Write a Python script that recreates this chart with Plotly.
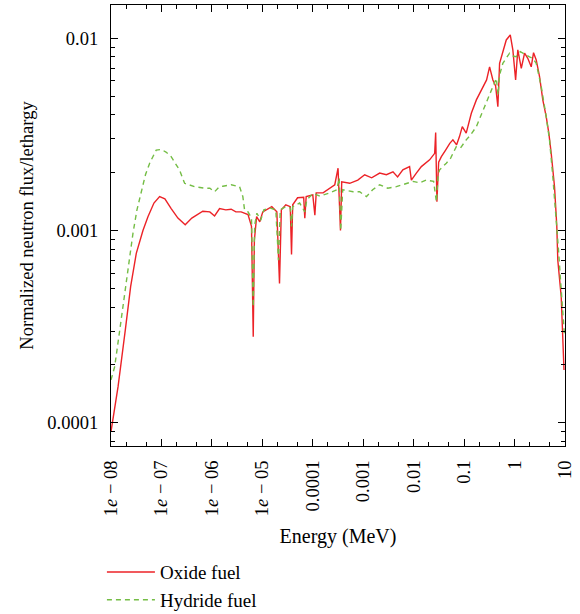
import plotly.graph_objects as go

# ---- data (energy in MeV, normalized flux per lethargy) ----
oxide_energy = [1.0e-8, 1.38e-8, 1.92e-8, 2.45e-8, 3.17e-8, 4.3e-8, 5.4e-8, 7.1e-8, 9.2e-8,
                1.17e-7, 1.56e-7, 2.12e-7, 2.96e-7, 4.0e-7, 6.6e-7, 9.1e-7, 1.13e-6, 1.42e-6,
                1.89e-6, 2.41e-6, 2.99e-6, 3.8e-6, 5.2e-6, 6.1e-6, 6.6e-6, 6.95e-6, 7.7e-6,
                8.9e-6, 1.02e-5, 1.29e-5, 1.54e-5, 1.94e-5, 2.19e-5, 2.38e-5, 2.92e-5, 3.58e-5,
                3.79e-5, 4.0e-5, 5.0e-5, 6.6e-5, 6.95e-5, 7.4e-5, 1.0e-4, 1.1e-4, 1.17e-4,
                1.6e-4, 2.17e-4, 2.73e-4, 3.17e-4, 3.54e-4, 3.75e-4, 5.4e-4, 7.8e-4, 1.07e-3,
                1.47e-3, 2.12e-3, 2.88e-3, 3.89e-3, 4.8e-3, 6.1e-3, 8.3e-3, 9.0e-3, 1.13e-2,
                1.42e-2, 2.07e-2, 2.61e-2, 2.73e-2, 2.89e-2, 3.13e-2, 3.54e-2, 4.3e-2, 5.2e-2,
                6.0e-2, 7.1e-2, 8.1e-2, 9.2e-2, 0.110, 0.139, 0.175, 0.236, 0.279, 0.320,
                0.372, 0.421, 0.467, 0.505, 0.685, 0.822, 0.925, 1.05, 1.16, 1.36, 1.58,
                1.83, 2.14, 2.38, 2.69, 3.13, 3.63, 4.24, 4.78, 5.33, 6.2, 6.88, 7.2, 8.41,
                9.04, 9.55]
oxide_flux = [9.0e-5, 1.54e-4, 3.03e-4, 5.1e-4, 7.6e-4, 1.0e-3, 1.18e-3, 1.39e-3, 1.50e-3,
              1.46e-3, 1.30e-3, 1.16e-3, 1.07e-3, 1.16e-3, 1.26e-3, 1.25e-3, 1.19e-3, 1.30e-3,
              1.28e-3, 1.29e-3, 1.25e-3, 1.25e-3, 1.21e-3, 1.05e-3, 2.8e-4, 8.9e-4, 1.18e-3,
              1.11e-3, 1.25e-3, 1.29e-3, 1.33e-3, 1.25e-3, 5.3e-4, 1.28e-3, 1.36e-3, 1.33e-3,
              7.5e-4, 1.36e-3, 1.48e-3, 1.49e-3, 1.16e-3, 1.50e-3, 1.53e-3, 1.20e-3, 1.57e-3,
              1.57e-3, 1.66e-3, 1.73e-3, 2.11e-3, 1.0e-3, 1.79e-3, 1.76e-3, 1.83e-3, 1.95e-3,
              1.88e-3, 1.99e-3, 1.95e-3, 2.02e-3, 1.90e-3, 2.07e-3, 2.15e-3, 1.83e-3, 1.99e-3,
              2.15e-3, 2.33e-3, 2.52e-3, 3.23e-3, 1.41e-3, 2.27e-3, 2.42e-3, 2.62e-3, 2.84e-3,
              2.96e-3, 2.79e-3, 3.08e-3, 3.47e-3, 3.21e-3, 4.07e-3, 4.78e-3, 5.6e-3, 6.07e-3,
              7.1e-3, 6.07e-3, 5.65e-3, 4.41e-3, 7.41e-3, 9.8e-3, 1.04e-2, 8.7e-3, 6.07e-3,
              8.7e-3, 6.98e-3, 8.36e-3, 7.87e-3, 7.1e-3, 8.41e-3, 7.71e-3, 6.31e-3, 4.78e-3,
              3.91e-3, 3.21e-3, 2.52e-3, 1.69e-3, 1.05e-3, 7.0e-4, 4.53e-4, 2.8e-4, 1.88e-4]

hydride_energy = [1.0e-8, 1.18e-8, 1.49e-8, 1.73e-8, 2.17e-8, 2.73e-8, 3.27e-8, 3.98e-8, 4.82e-8,
                  5.84e-8, 7.88e-8, 9.9e-8, 1.23e-7, 1.56e-7, 1.89e-7, 2.29e-7, 2.88e-7, 4.54e-7,
                  7.16e-7, 9.1e-7, 1.13e-6, 1.38e-6, 1.65e-6, 2.41e-6, 3.54e-6, 4.11e-6, 4.44e-6,
                  5.2e-6, 6.1e-6, 6.6e-6, 7.05e-6, 7.8e-6, 9.3e-6, 1.07e-5, 1.41e-5, 1.85e-5,
                  2.09e-5, 2.27e-5, 2.92e-5, 3.58e-5, 3.79e-5, 4.0e-5, 5.5e-5, 6.95e-5, 7.6e-5,
                  1.01e-4, 1.38e-4, 2.17e-4, 2.99e-4, 3.35e-4, 3.58e-4, 3.92e-4, 6.3e-4, 8.5e-4,
                  1.16e-3, 1.54e-3, 2.12e-3, 3.06e-3, 4.54e-3, 6.6e-3, 9.7e-3, 1.31e-2, 1.78e-2,
                  2.49e-2, 2.82e-2, 3.06e-2, 3.27e-2, 4.44e-2, 5.41e-2, 7.0e-2, 8.5e-2, 0.110,
                  0.134, 0.175, 0.212, 0.275, 0.346, 0.435, 0.471, 0.505, 0.586, 0.695, 0.796,
                  0.912, 1.08, 1.30, 1.51, 1.71, 1.98, 2.30, 2.69, 3.38, 4.24, 4.93, 5.73, 6.69,
                  7.43, 8.41, 9.77]
hydride_flux = [1.67e-4, 1.95e-4, 3.03e-4, 4.09e-4, 6.2e-4, 9.7e-4, 1.28e-3, 1.59e-3, 1.95e-3,
                2.24e-3, 2.62e-3, 2.64e-3, 2.56e-3, 2.42e-3, 2.25e-3, 2.06e-3, 1.76e-3, 1.69e-3,
                1.66e-3, 1.66e-3, 1.59e-3, 1.68e-3, 1.70e-3, 1.73e-3, 1.69e-3, 1.50e-3, 1.28e-3,
                1.25e-3, 1.16e-3, 4.0e-4, 1.07e-3, 1.23e-3, 1.13e-3, 1.28e-3, 1.31e-3, 1.28e-3,
                7.0e-4, 1.28e-3, 1.33e-3, 1.31e-3, 1.05e-3, 1.33e-3, 1.39e-3, 1.25e-3, 1.44e-3,
                1.56e-3, 1.51e-3, 1.57e-3, 1.63e-3, 1.88e-3, 1.0e-3, 1.63e-3, 1.59e-3, 1.59e-3,
                1.50e-3, 1.63e-3, 1.73e-3, 1.66e-3, 1.69e-3, 1.75e-3, 1.80e-3, 1.77e-3, 1.83e-3,
                1.80e-3, 1.41e-3, 1.95e-3, 2.07e-3, 2.24e-3, 2.38e-3, 2.73e-3, 2.69e-3, 2.96e-3,
                3.14e-3, 3.47e-3, 3.94e-3, 4.59e-3, 5.38e-3, 6.19e-3, 5.07e-3, 6.44e-3, 7.41e-3,
                8.0e-3, 8.36e-3, 8.09e-3, 8.02e-3, 8.51e-3, 8.28e-3, 8.18e-3, 8.0e-3, 7.87e-3,
                7.41e-3, 5.6e-3, 3.91e-3, 2.96e-3, 1.91e-3, 1.18e-3, 7.93e-4, 4.91e-4, 2.83e-4]

x_tick_vals = [1e-8, 1e-7, 1e-6, 1e-5, 1e-4, 1e-3, 1e-2, 1e-1, 1, 10]
x_tick_text = ["1<i>e</i> − 08", "1<i>e</i> − 07", "1<i>e</i> − 06", "1<i>e</i> − 05",
               "0.0001", "0.001", "0.01", "0.1", "1", "10"]
y_tick_vals = [1e-4, 1e-3, 1e-2]
y_tick_text = ["0.0001", "0.001", "0.01"]

x_minor = [m * 10.0 ** k for k in range(-8, 1) for m in (2, 5)]
y_minor = [m * 10.0 ** k for k in range(-5, -1) for m in range(2, 10)]

FONT = "Liberation Serif"
TICK_SIZE = 18.5
TITLE_SIZE = 20
LEGEND_SIZE = 19

fig = go.Figure()
fig.add_trace(go.Scatter(x=oxide_energy, y=oxide_flux, mode="lines", name="Oxide fuel",
                         line=dict(color="#ec2227", width=1.4)))
fig.add_trace(go.Scatter(x=hydride_energy, y=hydride_flux, mode="lines", name="Hydride fuel",
                         line=dict(color="#74bd45", width=1.4, dash="5px,4px")))

axis_common = dict(type="log", showline=True, linecolor="black", linewidth=1.3, mirror="allticks",
                   ticks="inside", ticklen=7, tickwidth=1, tickcolor="black", showgrid=False,
                   zeroline=False, automargin=False,
                   tickfont=dict(family=FONT, size=TICK_SIZE, color="black"))

fig.update_xaxes(**axis_common, range=[-8, 1], tickmode="array", tickvals=x_tick_vals,
                 ticktext=x_tick_text, tickangle=-90, ticklabelstandoff=6,
                 minor=dict(tickmode="array", tickvals=x_minor, ticks="inside", ticklen=4,
                            tickcolor="black", showgrid=False),
                 title=dict(text="Energy (MeV)", font=dict(family=FONT, size=TITLE_SIZE, color="black"),
                            standoff=13))
fig.update_yaxes(**axis_common, range=[-4.121, -1.827], tickmode="array", tickvals=y_tick_vals,
                 ticktext=y_tick_text, ticklabelstandoff=8,
                 minor=dict(tickmode="array", tickvals=y_minor, ticks="inside", ticklen=4,
                            tickcolor="black", showgrid=False),
                 title=dict(text="Normalized neutron flux/lethargy",
                            font=dict(family=FONT, size=TICK_SIZE, color="black"), standoff=8))

fig.update_layout(
    width=580, height=614,
    margin=dict(l=111, r=15, t=5, b=168, autoexpand=False),
    paper_bgcolor="white", plot_bgcolor="white",
    font=dict(family=FONT, size=TITLE_SIZE, color="black"),
    showlegend=True,
    legend=dict(x=-0.02, y=-0.243, xanchor="left", yanchor="top", orientation="v",
                font=dict(family=FONT, size=LEGEND_SIZE, color="black"), bgcolor="rgba(0,0,0,0)",
                tracegroupgap=0, itemwidth=48),
)

fig.write_html("out.html")
